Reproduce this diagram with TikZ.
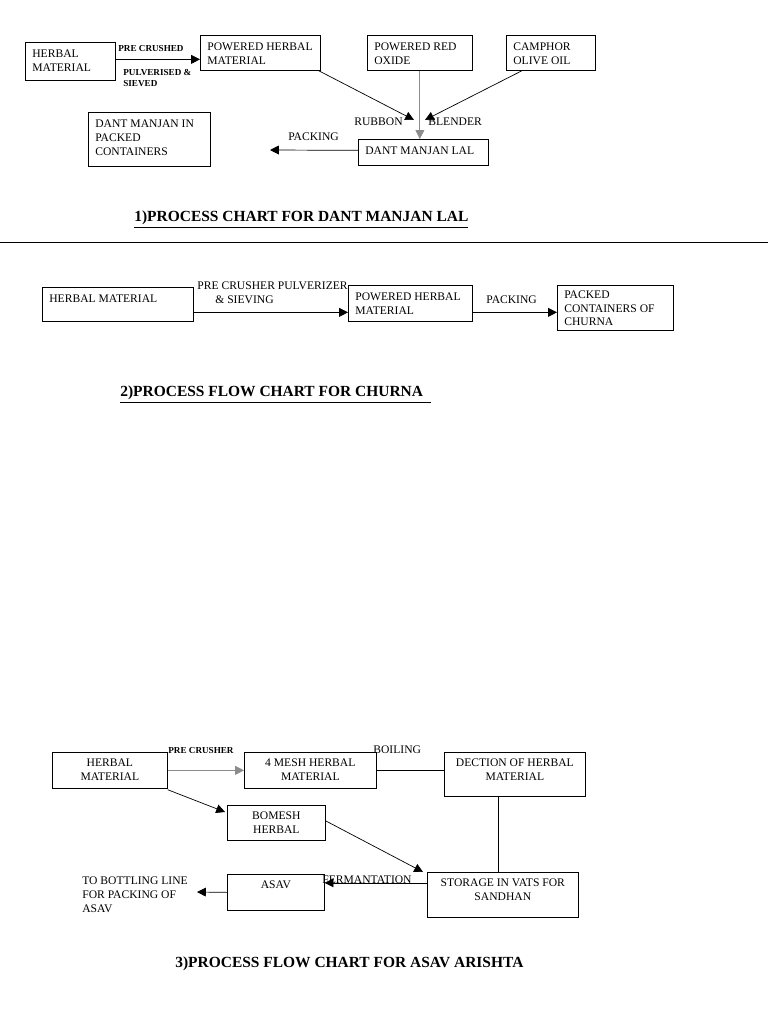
\documentclass[tikz,border=0pt]{standalone}
\usepackage{fontspec}
\setmainfont{Liberation Serif}
\usetikzlibrary{arrows.meta,positioning,calc}
\colorlet{ink}{black}
\colorlet{grey}{black!45}
\tikzset{box/.style={draw=ink,thin,anchor=north west,inner sep=0pt},
  txt/.style={anchor=north west,align=left,inner sep=0pt,xshift=1.4mm,yshift=-1.5mm,
    font=\fontsize{6.6}{8.1}\selectfont},
  ctxt/.style={anchor=north,align=center,inner sep=0pt,yshift=-1.3mm,
    font=\fontsize{6.6}{8.1}\selectfont},
  lbl/.style={anchor=west,inner sep=0pt,font=\fontsize{6.6}{8.1}\selectfont},
  sm/.style={anchor=west,align=left,inner sep=0pt,font=\fontsize{5.2}{6.4}\selectfont\bfseries},
  ttl/.style={anchor=west,inner sep=0pt,font=\fontsize{8.8}{10}\selectfont\bfseries},
  arr/.style={thin,draw=ink,-{Triangle[length=5pt,width=5pt]}},
  wire/.style={thin,draw=ink}}

\begin{document}
\begin{tikzpicture}[x=0.02cm,y=-0.02cm]
\useasboundingbox (0,0) rectangle (768,1024);
% chart 1
\node[box,minimum width=1.8cm,minimum height=.76cm,label={[txt]north west:HERBAL\\MATERIAL}] (herbA) at (25,42) {};
\node[box,minimum width=2.4cm,minimum height=.7cm,label={[txt]north west:POWERED HERBAL\\MATERIAL}] (powA) at (200,35) {};
\node[box,minimum width=2.1cm,minimum height=.7cm,label={[txt]north west:POWERED RED\\OXIDE}] (oxide) at (367,35) {};
\node[box,minimum width=1.78cm,minimum height=.7cm,label={[txt]north west:CAMPHOR\\OLIVE OIL}] (camph) at (506,35) {};
\node[box,minimum width=2.6cm,minimum height=.52cm,label={[txt]north west:DANT MANJAN LAL}] (dml) at (358,139) {};
\node[box,minimum width=2.44cm,minimum height=1.08cm,label={[txt]north west:DANT MANJAN IN\\PACKED\\CONTAINERS}] (packA) at (88,112) {};
\coordinate (mixL) at (414,120);
\coordinate (mixR) at (425,120);
\coordinate (pkA) at (270,150);

\draw[arr] ($(herbA.east)+(0,-2)$) -- ($(herbA.east -| powA.west)+(0,-2)$);
\draw[arr] ($(powA.south east)+(-2,0)$) -- (mixL);
\draw[arr] ($(camph.south west)+(16,0)$) -- (mixR);
\draw[arr,draw=grey] (oxide.south) -- (oxide.south |- dml.north);
\draw[arr] ($(dml.west)+(0,-2)$) -- (pkA);

\node[sm] (lpc) at (118,49) {PRE CRUSHED};
\node[sm,anchor=north west] (lps) at (123,69) {PULVERISED \&\\SIEVED};
\node[lbl] (lrub) at (354,122) {RUBBON};
\node[lbl] (lbl1) at (428,122) {BLENDER};
\node[lbl] (lpk1) at (288,137) {PACKING};
\node[ttl] (t1) at (134,220) {\underline{1)PROCESS CHART FOR DANT MANJAN LAL}};

\draw[wire] (0,242) -- (768,242);

% chart 2
\node[box,minimum width=3.02cm,minimum height=.68cm,label={[txt]north west:HERBAL MATERIAL}] (herbB) at (42,287) {};
\node[box,minimum width=2.48cm,minimum height=.72cm,label={[txt]north west:POWERED HERBAL\\MATERIAL}] (powB) at (348,285) {};
\node[box,minimum width=2.32cm,minimum height=.9cm,label={[txt,yshift=.4mm,font=\fontsize{6.6}{7.7}\selectfont]north west:PACKED\\CONTAINERS OF\\CHURNA}] (packB) at (557,285) {};

\draw[arr] ($(herbB.east)+(0,8)$) -- ($(powB.west)+(0,9)$);
\draw[arr] ($(powB.east)+(0,9)$) -- ($(powB.east -| packB.west)+(0,9)$);

\node[lbl] (lpcp) at (197,286) {PRE CRUSHER PULVERIZER};
\node[lbl] (lsv) at (215,300) {\& SIEVING};
\node[lbl] (lpk2) at (486,300) {PACKING};
\node[ttl] (t2) at (120,395) {\underline{2)PROCESS FLOW CHART FOR CHURNA\ \ }};

% chart 3
\node[box,minimum width=2.3cm,minimum height=.72cm,label={[ctxt]north:HERBAL\\MATERIAL}] (herbC) at (52,752) {};
\node[box,minimum width=2.64cm,minimum height=.72cm,label={[ctxt]north:4 MESH HERBAL\\MATERIAL}] (meshC) at (244,752) {};
\node[box,minimum width=2.82cm,minimum height=.88cm,label={[ctxt]north:DECTION OF HERBAL\\MATERIAL}] (decC) at (444,752) {};
\node[box,minimum width=1.96cm,minimum height=.7cm,label={[ctxt]north:BOMESH\\HERBAL}] (bomC) at (227,805) {};
\node[box,minimum width=3.02cm,minimum height=.9cm,label={[ctxt]north:STORAGE IN VATS FOR\\SANDHAN}] (storC) at (427,872) {};
\node[box,minimum width=1.94cm,minimum height=.72cm,label={[ctxt]north:ASAV}] (asavC) at (227,874) {};
\node[anchor=north west,align=left,inner sep=0pt,font=\fontsize{6.6}{8.1}\selectfont] (bottle) at (82,876) {TO BOTTLING LINE\\FOR PACKING OF\\ASAV};
\coordinate (btl) at (197,892);

\draw[arr,draw=grey] (herbC.east) -- (meshC.west);
\draw[wire] (meshC.east) -- (meshC.east -| decC.west);
\draw[wire] ($(decC.south)+(-16,0)$) -- ($(decC.south |- storC.north)+(-16,0)$);
\draw[arr] ($(herbC.south east)+(0,1)$) -- ($(bomC.north west)+(-2,7)$);
\draw[arr] ($(bomC.east)+(0,-2)$) -- ($(storC.north west)+(-4,0)$);
\draw[arr] ($(storC.west)+(0,-12)$) -- ($(storC.west -| asavC.east)+(0,-12)$);
\draw[arr] (asavC.west) -- (btl);

\node[sm] (lpc3) at (168,751) {PRE CRUSHER};
\node[lbl] (lboil) at (373,750) {BOILING};
\node[lbl] (lferm) at (322,880) {FERMANTATION};
\node[ttl] (t3) at (175,964) {3)PROCESS FLOW CHART FOR ASAV ARISHTA};
\end{tikzpicture}
\end{document}
